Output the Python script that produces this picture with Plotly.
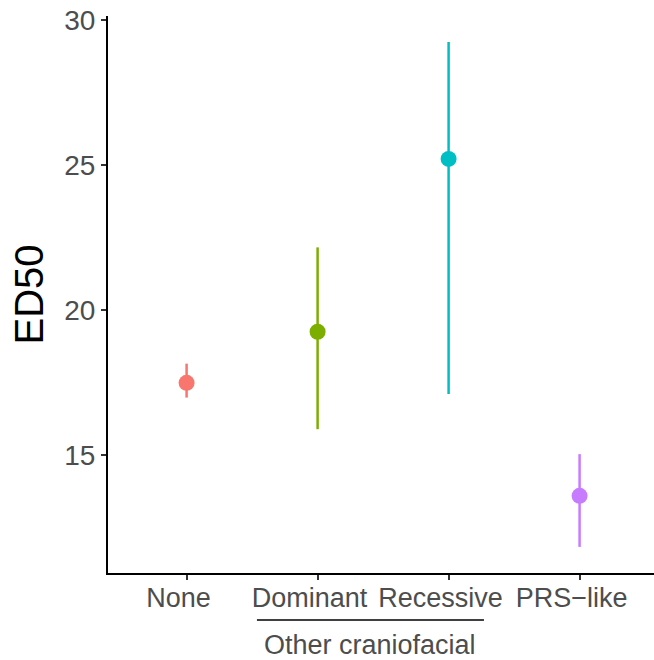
import plotly.graph_objects as go

categories = ["None", "Dominant", "Recessive", "PRS\u2212like"]
ed50 = [17.50, 19.26, 25.22, 13.60]
lower = [16.99, 15.90, 17.11, 11.84]
upper = [18.16, 22.17, 29.25, 15.04]
colors = ["#F8766D", "#7CAE00", "#00BFC4", "#C77CFF"]
y_ticks = [15, 20, 25, 30]
group_label = "Other craniofacial"

FONT = "Liberation Sans, Arial, Helvetica, sans-serif"

fig = go.Figure()
for c, v, lo, hi, col in zip(categories, ed50, lower, upper, colors):
    fig.add_trace(go.Scatter(
        x=[c], y=[v], mode="markers",
        marker=dict(color=col, size=16, line=dict(width=0)),
        error_y=dict(type="data", symmetric=False, array=[hi - v], arrayminus=[v - lo],
                     color=col, thickness=2.5, width=0),
        showlegend=False,
    ))

fig.update_layout(
    width=654, height=660,
    margin=dict(l=108, r=0, t=16, b=87),
    paper_bgcolor="white", plot_bgcolor="white",
    font=dict(family=FONT),
    xaxis=dict(
        type="category", categoryorder="array", categoryarray=categories,
        range=[-0.6, 3.568],
        showline=True, linecolor="black", linewidth=2,
        ticks="outside", ticklen=5, tickwidth=1.5, tickcolor="#333333",
        tickfont=dict(size=27, color="#4D4D4D", family=FONT),
        ticklabelshift=-8, ticklabelstandoff=-5,
        showgrid=False, zeroline=False,
    ),
    yaxis=dict(
        range=[10.94, 30.15],
        tickvals=y_ticks,
        showline=True, linecolor="black", linewidth=2,
        ticks="outside", ticklen=5, tickwidth=1.5, tickcolor="#333333",
        tickfont=dict(size=28, color="#4D4D4D", family=FONT),
        showgrid=False, zeroline=False,
        title=dict(text="ED50", font=dict(size=40, color="black", family=FONT), standoff=8),
    ),
)

# nested group label under Dominant / Recessive
fig.add_shape(type="line", xref="x", yref="paper",
              x0=0.537, x1=2.27, y0=-0.0844, y1=-0.0844,
              line=dict(color="black", width=1.5))
fig.add_annotation(text=group_label, xref="x", yref="paper", x=1.40, y=-0.1293,
                   showarrow=False, xanchor="center", yanchor="middle",
                   font=dict(size=27, color="#4D4D4D", family=FONT))

fig.write_html("out.html", config={"displayModeBar": False},
               post_script="document.body.style.margin='0';")
